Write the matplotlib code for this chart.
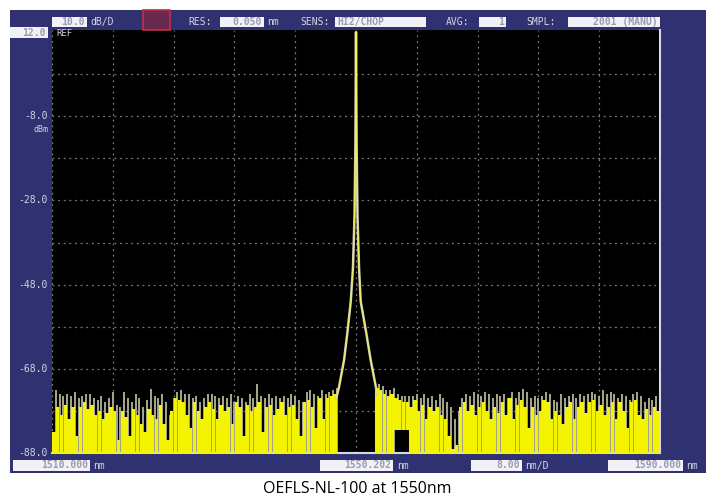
import numpy as np
import matplotlib.pyplot as plt
from matplotlib.patches import Rectangle

# ---- data ----
x_start_nm = 1510.0
x_stop_nm = 1590.0
noise_step_nm = 0.5

# yellow (dense) part of the noise floor, one value per 0.5 nm bin, dBm
noise_yellow = [
    -83, -77, -79, -76.5, -80, -77, -84, -77, -76, -77.5,
    -76.5, -79, -78, -80, -78.5, -77, -78, -85, -78, -79.5,
    -84, -77.5, -79, -81, -83, -77.5, -79, -80, -76.5, -81,
    -85, -78, -75, -75.5, -76, -79, -82, -76, -78, -80,
    -77, -76, -77.5, -80, -76.5, -78, -77, -81, -76, -77,
    -84, -76.5, -78, -77, -76, -83, -77, -76.5, -79, -77.5,
    -76, -79, -77, -76.5, -80, -84, -76, -75.5, -77, -82,
    -75, -80, -75, -74.5, -74, None, None, None, None, None,
    None, None, None, None, None, -72.5, -73, -74, -74.5, -74,
    -75, -75.5, -76, -76, -77, -75.5, -78, -76.5, -80, -77,
    -78, -77, -79, -80, -84, -87, -86, -77, -76, -78,
    -76.5, -79, -77, -76, -78, -80, -77, -78.5, -76, -79,
    -75, -80, -76.5, -75.5, -77, -82, -77, -79, -78, -75.5,
    -76, -80, -78, -79, -81, -77, -76, -80, -77, -76,
    -78.5, -76, -75.5, -78, -76.5, -79, -77, -76, -80, -76,
    -78, -82, -76, -75.5, -79, -80, -77.5, -79, -77, -78,
]
# grey (sparse, taller) spikes of the noise floor, dBm
noise_grey = [
    -73, -74, -74.5, -74, -74.5, -73.5, -75, -74.5, -74, -74,
    -75, -75.5, -74.5, -76, -75, -73.5, -76.5, -77, -73.5, -75,
    -76, -74, -75, -77, -75.5, -72.8, -74.5, -75, -74, -76,
    -79, -75, -73.5, -73, -74, -74, -75, -74.5, -76, -75,
    -74, -74, -74.5, -75, -74.5, -75, -74, -76, -74.5, -75,
    -76, -74, -75, -71.5, -74.5, -75, -74, -75, -74.5, -75,
    -74.5, -75, -74, -74.5, -75.5, -76, -73.5, -73, -74, -74.5,
    -73, -74, -73.5, -73, -72.5, None, None, None, None, None,
    None, None, None, None, None, -71.5, -72, -73, -73, -72.5,
    -74, -74.5, -74.5, -74.5, -74.5, -74, -75, -74, -75, -74.5,
    -75.5, -74, -75, -76, -77, -80, -78, -75, -74, -74.5,
    -73.5, -74, -74.5, -73.5, -74, -75, -74, -74.5, -74, -75,
    -73.5, -75, -73.5, -72.8, -73.5, -75, -74.5, -75, -74.5, -73.5,
    -74, -75.5, -76, -74, -75, -74.5, -74, -75, -74, -74.5,
    -74, -73.5, -74, -74.5, -73, -74, -73.5, -74, -75, -74,
    -74.5, -75.5, -74, -73.5, -74.5, -76, -75, -75.5, -74.5, -75,
]
# bins where the trace does not drop to the bottom of the screen
raised_floor = {90: -82.5, 91: -82.5, 92: -82.5, 93: -82.5}

# laser line, offsets from 1550 nm and level in dBm
peak_center_nm = 1550.0
peak_offset_nm = [-2.6, -2.23, -1.57, -1.14, -0.69, -0.4, -0.2, -0.08, -0.02, 0.0,
                  0.02, 0.08, 0.2, 0.4, 0.62, 1.35, 1.93, 2.58, 2.8]
peak_dbm = [-75, -72.3, -65.9, -59.5, -52, -44, -32, -15, 5, 12,
            5, -15, -32, -44, -52, -59.5, -65.9, -72, -74]

y_labels = [-8.0, -28.0, -48.0, -68.0, -88.0]
ref_level = 12.0
y_bottom = -88.0

W, H = 716, 503
NAVY = '#2f3170'
LABEL = '#d4d4e4'
BOX_FC = '#f2f2f6'
BOX_TXT = '#9a9ab4'
MONO = 'DejaVu Sans Mono'


def fx(x):
    return x / W


def fy(y):
    return 1 - y / H


def box(fig, x0, x1, y0, y1, s, ha='right', fc=BOX_FC, tc=BOX_TXT):
    fig.patches.append(Rectangle((fx(x0), fy(y1)), fx(x1 - x0), (y1 - y0) / H,
                                 transform=fig.transFigure, fc=fc, ec='none', zorder=2))
    tx = x1 - 2 if ha == 'right' else x0 + 2
    fig.text(fx(tx), fy((y0 + y1) / 2), s, ha=ha, va='center', color=tc,
             family=MONO, fontsize=7, fontweight='bold', zorder=3)


def label(fig, x, y, s, ha='left', size=7):
    fig.text(fx(x), fy(y), s, ha=ha, va='center', color=LABEL, family=MONO,
             fontsize=size, zorder=3)


fig = plt.figure(figsize=(W / 100, H / 100), dpi=100, facecolor='white')
fig.patches.append(Rectangle((fx(10), fy(473)), fx(696), 463 / H,
                             transform=fig.transFigure, fc=NAVY, ec='none', zorder=-1))

ax = fig.add_axes([fx(52), fy(453), fx(608), 423 / H])
ax.set_zorder(1)
ax.set_facecolor('black')
ax.set_xlim(x_start_nm, x_stop_nm)
ax.set_ylim(y_bottom, ref_level + 0.5)

ax.set_xticks(np.arange(x_start_nm, x_stop_nm + 1, 8))
ax.set_yticks(np.arange(-78, 12, 10))
ax.grid(True, color='#7a7a7a', linestyle=(0, (1.5, 3)), linewidth=0.9)
ax.set_axisbelow(True)
ax.tick_params(length=0, labelbottom=False, labelleft=False)
for side in ['left', 'top']:
    ax.spines[side].set_visible(False)
for side in ['bottom', 'right']:
    ax.spines[side].set_color('#d8d8e8')
    ax.spines[side].set_linewidth(1.5)

# noise floor
centers = x_start_nm + noise_step_nm * (np.arange(len(noise_yellow)) + 0.5)
for i, (c, yt, gt) in enumerate(zip(centers, noise_yellow, noise_grey)):
    if yt is None:
        continue
    lo = raised_floor.get(i, y_bottom)
    ax.vlines(c + noise_step_nm / 2, lo, gt, color='#a8a88c', linewidth=1.4, zorder=2)
    ax.bar(c, yt - lo, bottom=lo, width=noise_step_nm * 0.85, color='#f4f400',
           edgecolor='none', zorder=3)

# laser line
px = peak_center_nm + np.array(peak_offset_nm)
ax.plot(px, peak_dbm, color='#c8c8b0', linewidth=1.8, zorder=4)
ax.plot(px, peak_dbm, color='#f0f060', linewidth=0.8, zorder=5)

# level labels
for v in y_labels:
    yp = 32 + (ref_level - v) * 4.21
    label(fig, 48, yp, f'{v:.1f}', ha='right')
label(fig, 48, 130, 'dBm', ha='right', size=6)
box(fig, 10, 48, 27, 38, f'{ref_level:.1f}')
label(fig, 56, 34, 'REF', size=6.5)

# header
box(fig, 52, 87, 17, 27, '10.0')
label(fig, 90, 22, 'dB/D')
fig.patches.append(Rectangle((fx(143), fy(30)), fx(27), 20 / H, transform=fig.transFigure,
                             fc='#6a2a50', ec='#c03048', lw=1.2, zorder=2))
label(fig, 188, 22, 'RES:')
box(fig, 220, 264, 17, 27, '0.050')
label(fig, 267, 22, 'nm')
label(fig, 300, 22, 'SENS:')
box(fig, 335, 426, 17, 27, 'HI2/CHOP', ha='left')
label(fig, 446, 22, 'AVG:')
box(fig, 479, 506, 17, 27, '1')
label(fig, 526, 22, 'SMPL:')
box(fig, 568, 660, 17, 27, '2001 (MANU)')

# footer
box(fig, 13, 90, 460, 471, f'{x_start_nm:.3f}')
label(fig, 93, 466, 'nm')
box(fig, 320, 393, 460, 471, '1550.202')
label(fig, 397, 466, 'nm')
box(fig, 471, 522, 460, 471, '8.00')
label(fig, 525, 466, 'nm/D')
box(fig, 608, 683, 460, 471, f'{x_stop_nm:.3f}')
label(fig, 686, 466, 'nm')

fig.text(fx(357), fy(489), 'OEFLS-NL-100 at 1550nm', ha='center', va='center',
         family='Open Sans', fontsize=11.5, color='black')

fig.savefig('out.png', dpi=100, facecolor='white')
